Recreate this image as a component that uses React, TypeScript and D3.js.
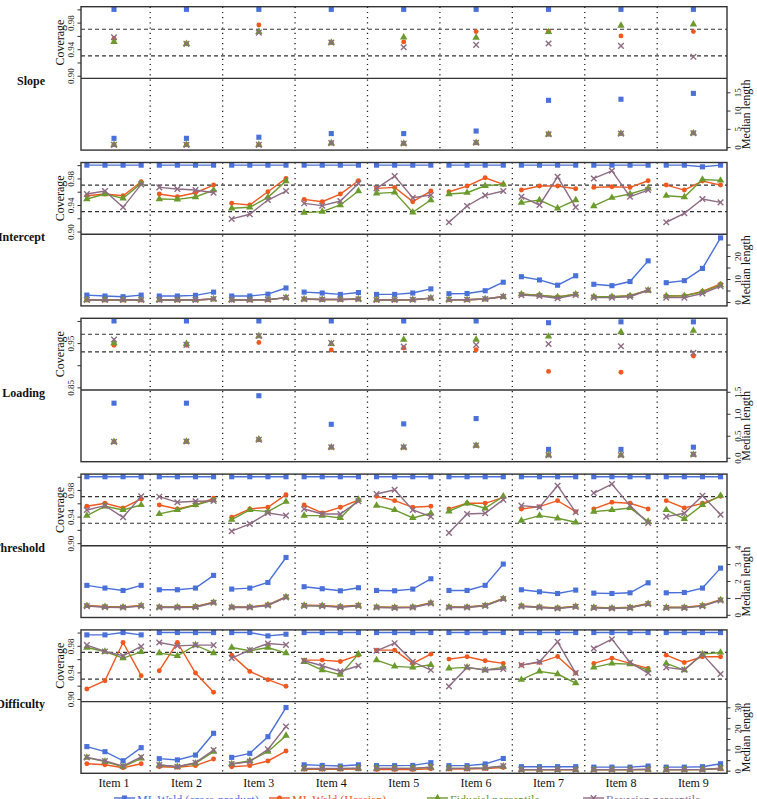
import React, { useEffect, useRef } from "react";
import * as d3 from "d3";

const items = ["Item 1", "Item 2", "Item 3", "Item 4", "Item 5", "Item 6", "Item 7", "Item 8", "Item 9"];
const methods = ["ML Wald (cross-product)", "ML Wald (Hessian)", "Fiducial percentile", "Bayesian percentile"];
const methodColors = ["#4a70d9", "#f0581f", "#6b9a2d", "#8e6c84"];
const refLines = [0.93, 0.97];

// Slope: one value per item
const slopeCovCP = [1, 1, 1, 1, 1, 1, 1, 1, 1];
const slopeCovHess = [0.956, 0.948, 0.9765, 0.95, 0.951, 0.9665, 0.967, 0.96, 0.9665];
const slopeCovFid = [0.951, 0.948, 0.966, 0.95, 0.958, 0.9575, 0.966, 0.9755, 0.9775];
const slopeCovBayes = [0.958, 0.948, 0.965, 0.95, 0.943, 0.9465, 0.9485, 0.945, 0.9285];
const slopeLenCP = [2.4, 2.4, 2.7, 3.7, 3.7, 4.4, 12.8, 13.1, 14.7];
const slopeLenHess = [0.65, 0.65, 0.65, 1.1, 1.0, 1.2, 3.6, 3.8, 3.9];
const slopeLenFid = [0.65, 0.65, 0.65, 1.1, 1.0, 1.2, 3.5, 3.7, 3.8];
const slopeLenBayes = [0.6, 0.6, 0.6, 1.1, 1.0, 1.2, 3.5, 3.7, 3.8];

// Intercept: four conditions per item
const intCovCP = [
  1, 1, 1, 1, 1, 1, 1, 1, 1, 1, 1, 1, 1, 1, 1, 1, 1, 1, 1, 1,
  1, 1, 1, 1, 1, 1, 1, 1, 1, 1, 1, 1, 1, 1, 0.9975, 1,
];
const intCovHess = [
  0.954, 0.9565, 0.954, 0.975, 0.9565, 0.9525, 0.9585, 0.97, 0.9425, 0.94, 0.96, 0.98,
  0.9485, 0.945, 0.9565, 0.9765, 0.965, 0.9665, 0.945, 0.961, 0.96, 0.9685, 0.981, 0.971,
  0.9625, 0.9685, 0.9685, 0.9645, 0.9665, 0.9675, 0.9665, 0.9765, 0.97, 0.9625, 0.976, 0.97,
];
const intCovFid = [
  0.949, 0.9565, 0.95, 0.9725, 0.949, 0.9485, 0.952, 0.9625, 0.935, 0.9365, 0.9515, 0.976,
  0.9285, 0.93, 0.94, 0.961, 0.9575, 0.959, 0.929, 0.9475, 0.9565, 0.9585, 0.969, 0.971,
  0.9435, 0.9475, 0.935, 0.9475, 0.9385, 0.951, 0.9565, 0.965, 0.954, 0.952, 0.9785, 0.977,
];
const intCovBayes = [
  0.9565, 0.961, 0.9365, 0.971, 0.9665, 0.964, 0.9625, 0.9585, 0.919, 0.926, 0.9475, 0.961,
  0.9425, 0.939, 0.946, 0.9725, 0.965, 0.9835, 0.951, 0.955, 0.914, 0.9385, 0.9545, 0.961,
  0.9525, 0.94, 0.9825, 0.9365, 0.98, 0.9915, 0.9525, 0.9625, 0.914, 0.9275, 0.949, 0.944,
];
const intLenCP = [
  3.0, 2.6, 2.3, 3.0, 2.6, 2.6, 2.9, 4.3, 2.6, 2.6, 3.4, 6.1,
  4.3, 3.9, 3.3, 4.1, 3.3, 3.3, 3.9, 5.7, 3.6, 3.7, 4.9, 8.6,
  11.0, 9.6, 7.3, 11.4, 7.7, 7.1, 8.9, 17.9, 8.4, 9.3, 14.6, 27.9,
];
const intLenHess = [
  0.9, 0.9, 0.9, 0.9, 0.9, 0.9, 0.9, 1.3, 0.9, 0.9, 1.0, 1.9,
  1.3, 1.1, 1.1, 1.3, 0.9, 0.9, 1.0, 1.7, 1.0, 1.0, 1.3, 2.4,
  3.4, 3.0, 2.2, 3.4, 2.3, 2.3, 2.7, 5.1, 2.6, 2.7, 4.6, 7.9,
];
const intLenFid = [
  0.9, 0.9, 0.9, 0.9, 0.9, 0.9, 0.9, 1.3, 0.9, 0.9, 1.0, 1.9,
  1.3, 1.1, 1.1, 1.3, 0.9, 0.9, 1.0, 1.7, 1.0, 1.0, 1.3, 2.4,
  3.4, 3.0, 2.2, 3.4, 2.3, 2.3, 2.7, 5.1, 2.6, 2.7, 4.4, 7.3,
];
const intLenBayes = [
  0.85, 0.85, 0.85, 0.85, 0.85, 0.85, 0.85, 1.3, 0.85, 0.85, 1.0, 1.9,
  1.2, 1.1, 1.1, 1.2, 0.85, 0.85, 1.0, 1.7, 1.0, 1.0, 1.3, 2.3,
  3.0, 2.6, 1.6, 3.1, 1.9, 1.9, 2.3, 5.1, 1.9, 1.9, 3.7, 6.9,
];

// Loading: one value per item
const loadCovCP = [1, 1, 1, 1, 1, 1, 0.996, 0.998, 0.998];
const loadCovHess = [0.945, 0.945, 0.9515, 0.9345, 0.939, 0.935, 0.886, 0.884, 0.921];
const loadCovFid = [0.95, 0.9485, 0.966, 0.9485, 0.958, 0.958, 0.965, 0.975, 0.978];
const loadCovBayes = [0.958, 0.946, 0.966, 0.95, 0.942, 0.946, 0.948, 0.943, 0.928];
const loadLenCP = [1.24, 1.24, 1.41, 0.76, 0.77, 0.89, 0.19, 0.19, 0.24];
const loadLenHess = [0.36, 0.37, 0.41, 0.24, 0.24, 0.28, 0.06, 0.06, 0.075];
const loadLenFid = [0.36, 0.37, 0.42, 0.24, 0.24, 0.28, 0.06, 0.06, 0.075];
const loadLenBayes = [0.36, 0.37, 0.41, 0.24, 0.24, 0.28, 0.06, 0.06, 0.075];

// Threshold: four conditions per item
const thrCovCP = new Array(36).fill(1);
const thrCovHess = [
  0.9555, 0.96, 0.953, 0.9665, 0.9575, 0.9515, 0.9575, 0.9675, 0.939, 0.9515, 0.954, 0.973,
  0.9575, 0.9455, 0.954, 0.965, 0.9705, 0.964, 0.954, 0.9555, 0.9515, 0.96, 0.96, 0.969,
  0.9515, 0.955, 0.964, 0.9475, 0.9515, 0.9615, 0.96, 0.9515, 0.964, 0.953, 0.96, 0.9705,
];
const thrCovFid = [
  0.9415, 0.9555, 0.95, 0.9575, 0.944, 0.95, 0.9575, 0.965, 0.9355, 0.95, 0.9475, 0.9625,
  0.9415, 0.9415, 0.938, 0.9655, 0.9565, 0.95, 0.938, 0.945, 0.948, 0.96, 0.9525, 0.9705,
  0.934, 0.9415, 0.9375, 0.9315, 0.9475, 0.95, 0.953, 0.9325, 0.95, 0.9365, 0.9575, 0.9715,
];
const thrCovBayes = [
  0.95, 0.9565, 0.939, 0.9705, 0.97, 0.9615, 0.963, 0.9635, 0.918, 0.929, 0.9455, 0.9415,
  0.9515, 0.944, 0.944, 0.963, 0.974, 0.9805, 0.95, 0.94, 0.9155, 0.944, 0.945, 0.9655,
  0.9565, 0.954, 0.9865, 0.9465, 0.9755, 0.989, 0.9565, 0.9305, 0.94, 0.945, 0.9715, 0.943,
];
const thrLenCP = [
  1.74, 1.58, 1.44, 1.74, 1.48, 1.48, 1.58, 2.33, 1.52, 1.58, 1.91, 3.39,
  1.66, 1.54, 1.42, 1.6, 1.44, 1.42, 1.52, 2.13, 1.44, 1.44, 1.74, 3.0,
  1.48, 1.36, 1.26, 1.46, 1.28, 1.26, 1.3, 1.89, 1.3, 1.32, 1.58, 2.76,
];
const thrLenHess = [
  0.55, 0.49, 0.47, 0.55, 0.47, 0.47, 0.49, 0.75, 0.47, 0.47, 0.59, 1.07,
  0.57, 0.55, 0.49, 0.57, 0.47, 0.45, 0.47, 0.71, 0.47, 0.47, 0.57, 0.97,
  0.53, 0.47, 0.41, 0.51, 0.45, 0.41, 0.45, 0.67, 0.45, 0.45, 0.55, 0.89,
];
const thrLenFid = [
  0.53, 0.47, 0.45, 0.53, 0.45, 0.45, 0.47, 0.73, 0.45, 0.45, 0.57, 1.05,
  0.55, 0.53, 0.47, 0.55, 0.45, 0.43, 0.45, 0.69, 0.45, 0.45, 0.55, 0.95,
  0.51, 0.45, 0.39, 0.49, 0.43, 0.39, 0.43, 0.65, 0.43, 0.43, 0.53, 0.87,
];
const thrLenBayes = [
  0.51, 0.45, 0.43, 0.51, 0.43, 0.43, 0.45, 0.71, 0.43, 0.43, 0.55, 1.03,
  0.53, 0.51, 0.45, 0.53, 0.43, 0.41, 0.43, 0.67, 0.43, 0.43, 0.53, 0.93,
  0.49, 0.43, 0.37, 0.47, 0.41, 0.37, 0.41, 0.63, 0.41, 0.41, 0.51, 0.85,
];

// Difficulty: four conditions per item
const difCovCP = [
  0.9965, 0.9965, 1, 0.9965, 1, 1, 1, 1, 1, 1, 0.995, 0.9975,
  1, 1, 1, 1, 1, 1, 1, 1, 1, 1, 1, 1,
  1, 1, 1, 1, 1, 1, 1, 1, 1, 1, 1, 1,
];
const difCovHess = [
  0.915, 0.9275, 0.985, 0.935, 0.9425, 0.985, 0.939, 0.91, 0.966, 0.9415, 0.929, 0.919,
  0.9585, 0.9585, 0.9565, 0.966, 0.9735, 0.9735, 0.9535, 0.9675, 0.96, 0.9635, 0.9575, 0.9535,
  0.951, 0.955, 0.964, 0.939, 0.9535, 0.9615, 0.9535, 0.946, 0.966, 0.955, 0.9635, 0.9635,
];
const difCovFid = [
  0.9775, 0.9715, 0.9615, 0.971, 0.969, 0.965, 0.981, 0.969, 0.9775, 0.9725, 0.9775, 0.969,
  0.956, 0.9435, 0.9365, 0.9675, 0.9585, 0.949, 0.9475, 0.9515, 0.946, 0.9475, 0.9435, 0.9475,
  0.929, 0.9415, 0.9375, 0.924, 0.9475, 0.9535, 0.9525, 0.9435, 0.9535, 0.9435, 0.9675, 0.97,
];
const difCovBayes = [
  0.981, 0.9715, 0.965, 0.979, 0.985, 0.98, 0.981, 0.981, 0.9615, 0.9735, 0.9835, 0.9815,
  0.9575, 0.95, 0.9415, 0.95, 0.9725, 0.984, 0.956, 0.9435, 0.919, 0.9475, 0.9435, 0.945,
  0.951, 0.956, 0.986, 0.939, 0.976, 0.99, 0.955, 0.939, 0.9475, 0.944, 0.9675, 0.9375,
];
const difLenCP = [
  11.4, 9.0, 4.7, 10.9, 5.7, 5.1, 7.4, 17.7, 6.3, 8.2, 16.1, 29.9,
  2.8, 2.5, 2.2, 2.8, 2.4, 2.4, 2.5, 3.8, 2.4, 2.4, 3.2, 5.8,
  1.9, 1.9, 1.9, 1.9, 1.7, 1.7, 1.7, 2.2, 1.7, 1.7, 1.9, 3.3,
];
const difLenHess = [
  3.3, 2.8, 1.4, 3.3, 1.9, 1.6, 2.4, 5.5, 1.9, 2.4, 4.6, 9.3,
  0.7, 0.7, 0.7, 0.8, 0.6, 0.6, 0.6, 0.9, 0.8, 0.8, 1.0, 1.5,
  0.4, 0.4, 0.4, 0.4, 0.4, 0.4, 0.4, 0.5, 0.4, 0.4, 0.5, 0.9,
];
const difLenFid = [
  6.2, 4.3, 1.9, 5.8, 2.7, 1.9, 3.5, 9.0, 3.2, 4.7, 9.0, 16.6,
  1.0, 1.0, 1.0, 1.1, 1.1, 1.1, 1.1, 1.6, 1.1, 1.1, 1.3, 2.1,
  0.5, 0.5, 0.5, 0.5, 0.5, 0.5, 0.5, 0.6, 0.5, 0.5, 0.6, 1.1,
];
const difLenBayes = [
  6.3, 4.6, 2.2, 6.5, 2.7, 1.9, 3.8, 9.8, 3.2, 4.3, 10.1, 20.9,
  1.1, 1.1, 1.1, 1.2, 1.1, 1.1, 1.1, 1.7, 1.1, 1.1, 1.3, 2.2,
  0.5, 0.5, 0.5, 0.5, 0.5, 0.5, 0.5, 0.7, 0.5, 0.5, 0.6, 1.2,
];

const covTicks = [0.9, 0.92, 0.94, 0.96, 0.98, 1.0];
const covLabels = [0.9, 0.94, 0.98];
const loadCovTicks = [0.85, 0.9, 0.95, 1.0];
const loadCovLabels = [0.85, 0.95];

type Row = {
  name: string;
  perItem: number;
  covRange: [number, number];
  covTicks: number[];
  covLabels: number[];
  lenRange: [number, number];
  lenTicks: number[];
  lenLabels: number[];
  lenFmt: string;
  cov: number[][];
  len: number[][];
};

const rows: Row[] = [
  {
    name: "Slope", perItem: 1, covRange: [0.896, 1.004], covTicks, covLabels,
    lenRange: [-0.82, 18.8], lenTicks: [0, 5, 10, 15], lenLabels: [0, 5, 10, 15], lenFmt: "d",
    cov: [slopeCovCP, slopeCovHess, slopeCovFid, slopeCovBayes],
    len: [slopeLenCP, slopeLenHess, slopeLenFid, slopeLenBayes],
  },
  {
    name: "Intercept", perItem: 4, covRange: [0.896, 1.004], covTicks, covLabels,
    lenRange: [-1.7, 29.5], lenTicks: [0, 5, 10, 15, 20, 25], lenLabels: [0, 10, 20], lenFmt: "d",
    cov: [intCovCP, intCovHess, intCovFid, intCovBayes],
    len: [intLenCP, intLenHess, intLenFid, intLenBayes],
  },
  {
    name: "Loading", perItem: 1, covRange: [0.844, 1.006], covTicks: loadCovTicks, covLabels: loadCovLabels,
    lenRange: [-0.09, 1.54], lenTicks: [0, 0.5, 1, 1.5], lenLabels: [0, 0.5, 1, 1.5], lenFmt: ".1f",
    cov: [loadCovCP, loadCovHess, loadCovFid, loadCovBayes],
    len: [loadLenCP, loadLenHess, loadLenFid, loadLenBayes],
  },
  {
    name: "Threshold", perItem: 4, covRange: [0.896, 1.004], covTicks, covLabels,
    lenRange: [-0.16, 4.08], lenTicks: [0, 1, 2, 3, 4], lenLabels: [0, 1, 2, 3, 4], lenFmt: "d",
    cov: [thrCovCP, thrCovHess, thrCovFid, thrCovBayes],
    len: [thrLenCP, thrLenHess, thrLenFid, thrLenBayes],
  },
  {
    name: "Difficulty", perItem: 4, covRange: [0.896, 1.004], covTicks, covLabels,
    lenRange: [-1.23, 32.7], lenTicks: [0, 5, 10, 15, 20, 25, 30], lenLabels: [0, 10, 20, 30], lenFmt: "d",
    cov: [difCovCP, difCovHess, difCovFid, difCovBayes],
    len: [difLenCP, difLenHess, difLenFid, difLenBayes],
  },
];

const W = 757;
const H = 799;
const frameL = 81;
const frameR = 727;
const firstTop = 6.7;
const rowStep = 155.8;
const halfH = 71.7;
const serif = "'Liberation Serif', 'Times New Roman', serif";
const ink = "#333";

type Sel = d3.Selection<SVGGElement, unknown, null, undefined>;

function drawMarker(g: Sel, m: number, x: number, y: number) {
  const color = methodColors[m];
  if (m === 3) {
    // Bayesian marker is an open cross
    const s = 2.8;
    g.append("path")
      .attr("transform", `translate(${x},${y})`)
      .attr("d", `M${-s},${-s}L${s},${s}M${-s},${s}L${s},${-s}`)
      .attr("stroke", color)
      .attr("stroke-width", 1.4)
      .attr("fill", "none");
    return;
  }
  const shape = [d3.symbolSquare, d3.symbolCircle, d3.symbolTriangle][m];
  const size = [26, 19, 24][m];
  g.append("path")
    .attr("transform", `translate(${x},${y})`)
    .attr("d", d3.symbol(shape, size)() as string)
    .attr("fill", color);
}

function draw(svgEl: SVGSVGElement) {
  const svg = d3.select(svgEl);
  svg.selectAll("*").remove();

  const xItem = d3.scaleBand<string>().domain(items).range([77.8, 729.6]);
  const xSub = d3.scaleBand<number>().domain([0, 1, 2, 3]).range([0, xItem.bandwidth()]);
  const xAt = (perItem: number, i: number) =>
    perItem === 1
      ? (xItem(items[i]) as number) + xItem.bandwidth() / 2
      : (xItem(items[Math.floor(i / 4)]) as number) + (xSub(i % 4) as number) + xSub.bandwidth() / 2;

  rows.forEach((row, r) => {
    const top = firstTop + r * rowStep;
    const mid = top + halfH;
    const bottom = mid + halfH;
    const yCov = d3.scaleLinear().domain(row.covRange).range([mid, top]);
    const yLen = d3.scaleLinear().domain(row.lenRange).range([bottom, mid]);
    const g = svg.append("g") as unknown as Sel;

    // dotted separators between items
    items.slice(1).forEach((it) => {
      const x = xItem(it) as number;
      g.append("line")
        .attr("x1", x).attr("x2", x).attr("y1", top).attr("y2", bottom)
        .attr("stroke", "#222").attr("stroke-width", 1.3).attr("stroke-dasharray", "1.2,4");
    });

    // nominal coverage band
    refLines.forEach((v) => {
      g.append("line")
        .attr("x1", frameL).attr("x2", frameR).attr("y1", yCov(v)).attr("y2", yCov(v))
        .attr("stroke", ink).attr("stroke-width", 1.2).attr("stroke-dasharray", "4,3");
    });

    const panels: [number[][], d3.ScaleLinear<number, number>][] = [
      [row.cov, yCov],
      [row.len, yLen],
    ];
    panels.forEach(([series, y]) => {
      series.forEach((vals, m) => {
        if (row.perItem === 4) {
          // connect the four conditions within each item
          items.forEach((_, it) => {
            const idx = d3.range(it * 4, it * 4 + 4);
            const seg = d3.line<number>()
              .x((i) => xAt(4, i))
              .y((i) => y(vals[i]));
            g.append("path")
              .attr("d", seg(idx) as string)
              .attr("fill", "none")
              .attr("stroke", methodColors[m])
              .attr("stroke-width", 1.4);
          });
        }
        vals.forEach((v, i) => drawMarker(g, m, xAt(row.perItem, i), y(v)));
      });
    });

    // panel frames
    g.append("rect")
      .attr("x", frameL).attr("y", top).attr("width", frameR - frameL).attr("height", bottom - top)
      .attr("fill", "none").attr("stroke", ink).attr("stroke-width", 1.4);
    g.append("line")
      .attr("x1", frameL).attr("x2", frameR).attr("y1", mid).attr("y2", mid)
      .attr("stroke", ink).attr("stroke-width", 1.4);

    // coverage axis on the left
    const covAxis = g.append("g").attr("transform", `translate(${frameL},0)`)
      .call(
        d3.axisLeft(yCov)
          .tickValues(row.covTicks)
          .tickSize(3.5)
          .tickFormat((v) => (row.covLabels.includes(v as number) ? d3.format(".2f")(v as number) : ""))
      );
    covAxis.select(".domain").remove();
    covAxis.selectAll("line").attr("stroke", ink);
    covAxis.selectAll("text")
      .attr("x", 0).attr("y", -7.5).attr("dy", null)
      .attr("transform", "rotate(-90)")
      .attr("text-anchor", "middle")
      .attr("font-family", serif).attr("font-size", 9).attr("fill", "#222");

    // length axis on the right
    const lenAxis = g.append("g").attr("transform", `translate(${frameR},0)`)
      .call(
        d3.axisRight(yLen)
          .tickValues(row.lenTicks)
          .tickSize(3.5)
          .tickFormat((v) => (row.lenLabels.includes(v as number) ? d3.format(row.lenFmt)(v as number) : ""))
      );
    lenAxis.select(".domain").remove();
    lenAxis.selectAll("line").attr("stroke", ink);
    lenAxis.selectAll("text")
      .attr("x", 0).attr("y", 14.4).attr("dy", null)
      .attr("transform", "rotate(-90)")
      .attr("text-anchor", "middle")
      .attr("font-family", serif).attr("font-size", 9).attr("fill", "#222");

    // axis titles and row name
    g.append("text")
      .attr("transform", `translate(64,${(top + mid) / 2}) rotate(-90)`)
      .attr("text-anchor", "middle")
      .attr("font-family", serif).attr("font-size", 12).attr("fill", "#111")
      .text("Coverage");
    g.append("text")
      .attr("transform", `translate(750,${(mid + bottom) / 2}) rotate(-90)`)
      .attr("text-anchor", "middle")
      .attr("font-family", serif).attr("font-size", 12).attr("fill", "#111")
      .text("Median length");
    g.append("text")
      .attr("x", 45).attr("y", mid + 6.5)
      .attr("text-anchor", "end")
      .attr("font-family", serif).attr("font-size", 12).attr("font-weight", "bold").attr("fill", "#111")
      .text(row.name);
  });

  // item labels under the last row
  svg.append("g")
    .selectAll("text")
    .data(items)
    .enter()
    .append("text")
    .attr("x", (d) => (xItem(d) as number) + xItem.bandwidth() / 2)
    .attr("y", 787)
    .attr("text-anchor", "middle")
    .attr("font-family", serif).attr("font-size", 12).attr("fill", "#111")
    .text((d) => d);

  // legend along the bottom edge
  const legendX = [114, 269, 427, 583];
  const legend = svg.append("g") as unknown as Sel;
  methods.forEach((name, m) => {
    const x0 = legendX[m];
    legend.append("line")
      .attr("x1", x0).attr("x2", x0 + 21).attr("y1", 798).attr("y2", 798)
      .attr("stroke", methodColors[m]).attr("stroke-width", 1.4);
    drawMarker(legend, m, x0 + 10.5, 798);
    legend.append("text")
      .attr("x", x0 + 23).attr("y", 803.5)
      .attr("font-family", serif).attr("font-size", 12).attr("fill", methodColors[m])
      .text(name);
  });
}

export default function App() {
  const ref = useRef<SVGSVGElement>(null);
  useEffect(() => {
    if (ref.current) draw(ref.current);
  }, []);
  return (
    <svg
      ref={ref}
      width={W}
      height={H}
      style={{ position: "absolute", left: 0, top: 0, background: "#fff" }}
    />
  );
}
